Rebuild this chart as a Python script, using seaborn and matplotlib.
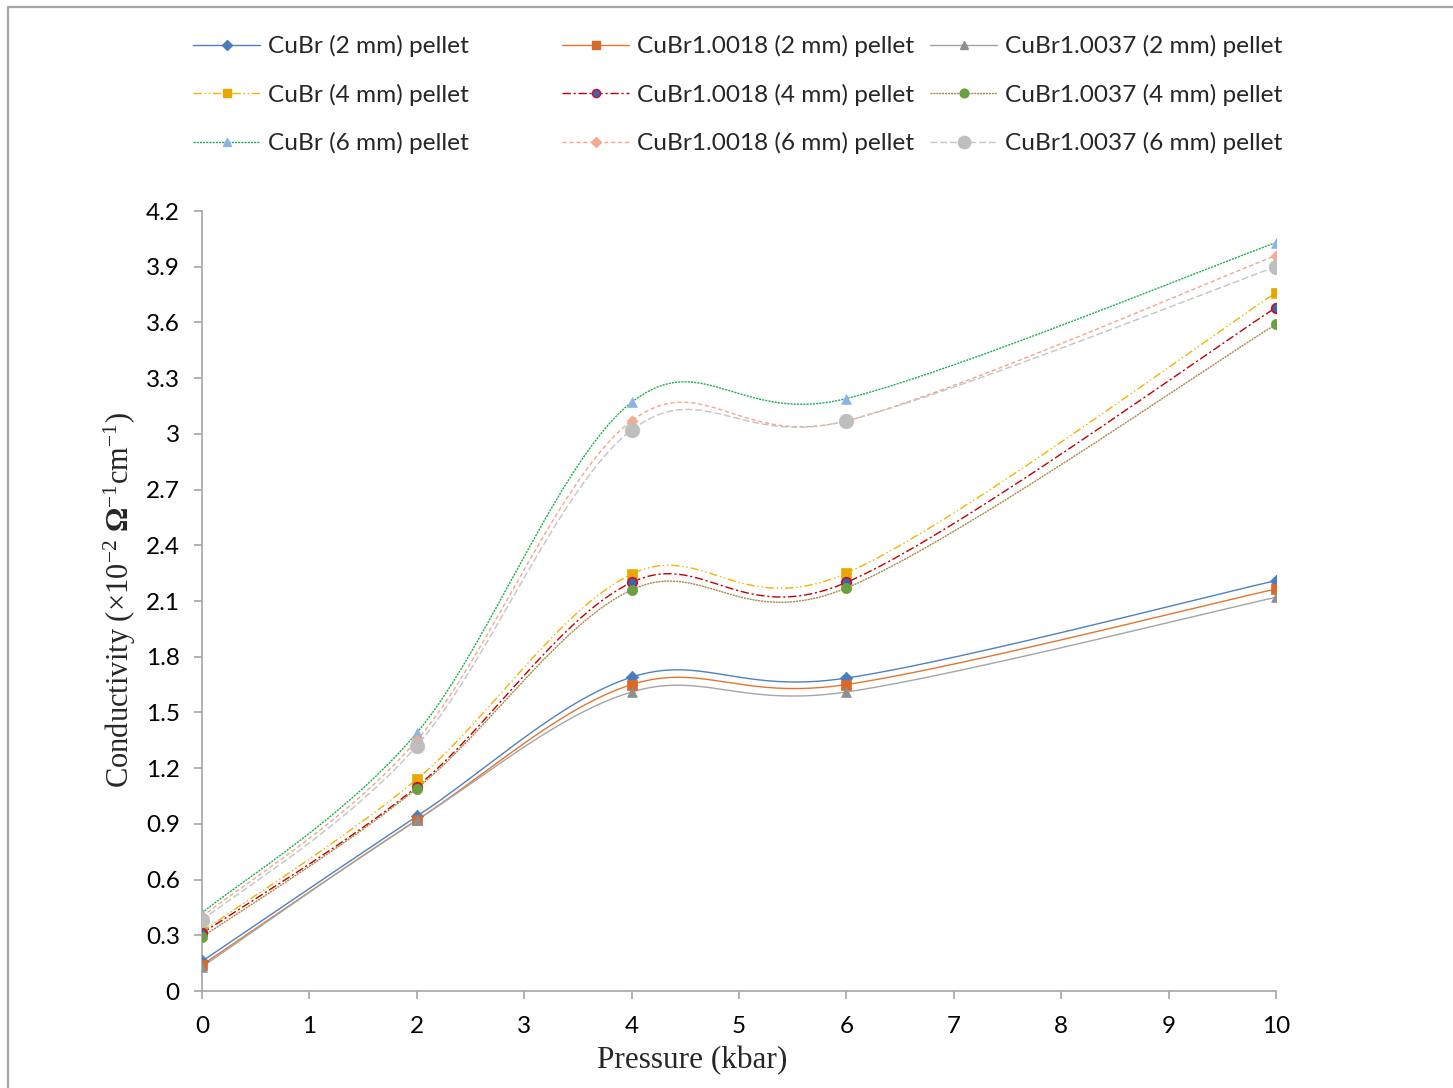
import numpy as np
import pandas as pd
import matplotlib
matplotlib.use("Agg")
import matplotlib.pyplot as plt
import seaborn as sns
from matplotlib.lines import Line2D

# ---------------- data ----------------
pressure = [0, 2, 4, 6, 10]

cubr_2mm = [0.16, 0.94, 1.69, 1.685, 2.21]
cubr18_2mm = [0.14, 0.92, 1.65, 1.65, 2.165]
cubr37_2mm = [0.13, 0.92, 1.61, 1.61, 2.12]

cubr_4mm = [0.32, 1.14, 2.245, 2.25, 3.76]
cubr18_4mm = [0.31, 1.10, 2.20, 2.20, 3.68]
cubr37_4mm = [0.29, 1.09, 2.16, 2.17, 3.59]

cubr_6mm = [0.42, 1.39, 3.17, 3.19, 4.03]
cubr18_6mm = [0.40, 1.35, 3.07, 3.07, 3.96]
cubr37_6mm = [0.38, 1.32, 3.02, 3.07, 3.90]

labels = [
    "CuBr (2 mm) pellet", "CuBr1.0018 (2 mm) pellet", "CuBr1.0037 (2 mm) pellet",
    "CuBr (4 mm) pellet", "CuBr1.0018 (4 mm) pellet", "CuBr1.0037 (4 mm) pellet",
    "CuBr (6 mm) pellet", "CuBr1.0018 (6 mm) pellet", "CuBr1.0037 (6 mm) pellet",
]
series = [cubr_2mm, cubr18_2mm, cubr37_2mm,
          cubr_4mm, cubr18_4mm, cubr37_4mm,
          cubr_6mm, cubr18_6mm, cubr37_6mm]

y_ticks = [0, 0.3, 0.6, 0.9, 1.2, 1.5, 1.8, 2.1, 2.4, 2.7, 3.0, 3.3, 3.6, 3.9, 4.2]
x_ticks = list(range(0, 11))

# ---------------- styles ----------------
styles = [
    dict(lc="#4F81C0", ls="-", m="D", mc="#4A7EBB", ec="#4A7EBB", s=40),
    dict(lc="#E3762F", ls="-", m="s", mc="#D8692B", ec="#D8692B", s=42),
    dict(lc="#A5A5A5", ls="-", m="^", mc="#8F8F8F", ec="#8F8F8F", s=50),
    dict(lc="#F0B400", ls=(0, (6, 2, 1, 2, 1, 2)), m="s", mc="#E9A800", ec="#E9A800", s=55),
    dict(lc="#C00000", ls=(0, (6, 2, 1.5, 2)), m="o", mc="#3C64AA", ec="#C8102E", s=48),
    dict(lc="#A68A48", ls=(0, (1.5, 0.6)), m="o", mc="#6AA040", ec="#6AA040", s=55),
    dict(lc="#1DAE50", ls=(0, (1.5, 0.8)), m="^", mc="#8DB3E2", ec="#8DB3E2", s=50),
    dict(lc="#F4A58A", ls=(0, (3, 2)), m="D", mc="#F4AA8E", ec="#F4AA8E", s=32),
    dict(lc="#C4C4C4", ls=(0, (5, 2)), m="o", mc="#BEBEBE", ec="#BEBEBE", s=110),
]


def excel_smooth(xs, ys, n=60):
    """Smoothed curve through the data points (Bezier / Catmull-Rom style)."""
    P = np.column_stack([xs, ys]).astype(float)
    out = []
    for i in range(len(P) - 1):
        p0 = P[i - 1] if i > 0 else P[i]
        p1 = P[i]
        p2 = P[i + 1]
        p3 = P[i + 2] if i + 2 < len(P) else P[i + 1]
        c1 = p1 + (p2 - p0) / 6.0
        c2 = p2 - (p3 - p1) / 6.0
        t = np.linspace(0, 1, n)[:, None]
        seg = ((1 - t) ** 3) * p1 + 3 * ((1 - t) ** 2) * t * c1 + 3 * (1 - t) * t ** 2 * c2 + t ** 3 * p2
        out.append(seg if i == 0 else seg[1:])
    seg = np.vstack(out)
    return seg[:, 0], seg[:, 1]


# ---------------- figure ----------------
sns.set_theme(style="white")
plt.rcParams["font.family"] = ["Lato", "DejaVu Sans"]
plt.rcParams["mathtext.fontset"] = "custom"
plt.rcParams["mathtext.rm"] = "Liberation Serif"
plt.rcParams["mathtext.bf"] = "Liberation Serif:bold"
plt.rcParams["mathtext.it"] = "Liberation Serif:italic"

W, H = 1453, 1088
fig = plt.figure(figsize=(W / 100, H / 100), dpi=100)
ax = fig.add_axes([202 / W, 1 - 991 / H, (1276 - 202) / W, (991 - 211) / H])

handles = []
for vals, st, lab in zip(series, styles, labels):
    sx, sy = excel_smooth(pressure, vals)
    sns.lineplot(x=sx, y=sy, ax=ax, sort=False, estimator=None, color=st["lc"],
                 linestyle=st["ls"], linewidth=1.0, legend=False)
    sns.scatterplot(x=pressure, y=vals, ax=ax, marker=st["m"], s=st["s"],
                    color=st["mc"], edgecolor=st["ec"], linewidth=1.2 if st["ec"] != st["mc"] else 0.5,
                    zorder=5, legend=False)
    handles.append(Line2D([0], [0], color=st["lc"], linestyle=st["ls"], linewidth=1.0,
                          marker=st["m"], markerfacecolor=st["mc"], markeredgecolor=st["ec"],
                          markersize=np.sqrt(st["s"]) * 0.85))

ax.set_xlim(0, 10)
ax.set_ylim(0, 4.2)
ax.set_xticks(x_ticks)
ax.set_yticks(y_ticks)
ax.set_yticklabels([f"{v:g}" for v in y_ticks])
for sp in ["top", "right"]:
    ax.spines[sp].set_visible(False)
for sp in ["left", "bottom"]:
    ax.spines[sp].set_color("#A6A6A6")
    ax.spines[sp].set_linewidth(1.2)
ax.tick_params(axis="both", which="major", direction="out", length=6, width=1.2,
               color="#A6A6A6", labelsize=17.5, labelcolor="black",
               left=True, bottom=True)
ax.tick_params(axis="x", pad=12)
ax.tick_params(axis="y", pad=10)
ax.grid(False)
ax.set_facecolor("white")

ax.set_xlabel("Pressure (kbar)", fontfamily="Liberation Serif", fontsize=22.5)
ax.xaxis.set_label_coords((692 - 202) / 1074, (991 - 1061) / 780)
ax.xaxis.label.set_va("center")
ax.set_ylabel(r"Conductivity ($\times$10$^{-2}$ $\mathbf{\Omega}^{-1}$cm$^{-1}$)",
              fontfamily="Liberation Serif", fontsize=22)
ax.yaxis.set_label_coords((120 - 202) / 1074, (991 - 600) / 780)
ax.yaxis.label.set_va("center")

# legend: three equal-width columns
col_x = [193, 562, 930]
for c in range(3):
    hs = [handles[c], handles[c + 3], handles[c + 6]]
    ls_ = [labels[c], labels[c + 3], labels[c + 6]]
    fig.legend(hs, ls_, loc="upper left", bbox_to_anchor=(col_x[c] / W, 1 - 35 / H),
               frameon=False, fontsize=17.6, handlelength=2.75, handletextpad=0.3,
               labelspacing=1.08, borderpad=0, borderaxespad=0)

# chart-area border (top and left visible)
fig.add_artist(Line2D([8 / W, 1.0], [1 - 6.5 / H, 1 - 6.5 / H], color="#A6A6A6", linewidth=1.6))
fig.add_artist(Line2D([8 / W, 8 / W], [0.0, 1 - 6.5 / H], color="#A6A6A6", linewidth=1.6))

fig.savefig("out.png", dpi=100, facecolor="white")
